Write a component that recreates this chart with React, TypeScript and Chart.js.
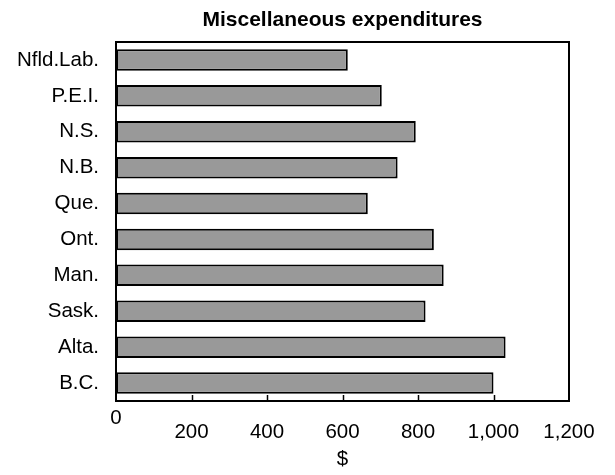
import React, { useEffect, useRef } from "react";
import { Chart, registerables } from "chart.js";

Chart.register(...registerables);

const categories = ["Nfld.Lab.", "P.E.I.", "N.S.", "N.B.", "Que.", "Ont.", "Man.", "Sask.", "Alta.", "B.C."];
const values = [614, 704, 794, 746, 667, 842, 868, 820, 1032, 1000];
const xTickValues = [0, 200, 400, 600, 800, 1000, 1200];
const xTickLabels = ["0", "200", "400", "600", "800", "1,000", "1,200"];
const titleText = "Miscellaneous expenditures";
const xAxisTitle = "$";

const FONT = "'Liberation Sans', Arial, sans-serif";

const framePlugin = {
  id: "frame",
  afterDatasetsDraw(chart: any) {
    const { ctx, chartArea } = chart;
    const { left, top, right, bottom } = chartArea;
    const xs = chart.scales.x;
    ctx.save();
    ctx.strokeStyle = "#000";
    ctx.lineWidth = 2;
    ctx.strokeRect(left, top, right - left, bottom - top);
    ctx.lineWidth = 1.5;
    for (let i = 1; i < xTickValues.length - 1; i++) {
      const px = Math.round(xs.getPixelForValue(xTickValues[i])) + 0.5;
      ctx.beginPath();
      ctx.moveTo(px, bottom);
      ctx.lineTo(px, bottom - 6);
      ctx.stroke();
    }
    ctx.restore();
  },
};

export default function App() {
  const ref = useRef<HTMLCanvasElement>(null);

  useEffect(() => {
    document.body.style.margin = "0";
    const canvas = ref.current;
    if (!canvas) return;
    const chart = new Chart(canvas, {
      type: "bar",
      data: {
        labels: categories,
        datasets: [
          {
            data: values,
            backgroundColor: "#999999",
            borderColor: "#000000",
            borderWidth: 2,
            borderSkipped: false,
            barPercentage: 0.6,
            categoryPercentage: 1,
          },
        ],
      },
      options: {
        indexAxis: "y",
        animation: false,
        responsive: false,
        maintainAspectRatio: false,
        layout: { padding: { left: 0, right: 46, top: 0, bottom: 0 } },
        plugins: {
          legend: { display: false },
          tooltip: { enabled: false },
          title: {
            display: true,
            text: titleText,
            fullSize: false,
            color: "#000",
            font: { family: FONT, size: 21, weight: "bold", lineHeight: 1.2 },
            padding: { top: 8, bottom: 8.8 },
          },
        },
        scales: {
          x: {
            type: "linear",
            min: 0,
            max: 1200,
            grid: { display: false, drawTicks: false },
            border: { display: false },
            afterBuildTicks(scale: any) {
              scale.ticks = xTickValues.map((v) => ({ value: v }));
            },
            afterFit(scale: any) {
              scale.height = 74;
            },
            ticks: {
              autoSkip: false,
              maxRotation: 0,
              padding: 10,
              color: "#000",
              font: { family: FONT, size: 20.5, lineHeight: "14px" },
              callback: (value: any) => {
                const i = xTickValues.indexOf(Number(value));
                const label = xTickLabels[i];
                return i === 0 ? label : ["", label];
              },
            },
            title: {
              display: true,
              text: xAxisTitle,
              color: "#000",
              font: { family: FONT, size: 20.5, lineHeight: 1.2 },
              padding: { top: 0, bottom: 3 },
            },
          },
          y: {
            type: "category",
            grid: { display: false, drawTicks: false },
            border: { display: false },
            afterFit(scale: any) {
              scale.width = 116;
            },
            ticks: {
              padding: 17,
              color: "#000",
              font: { family: FONT, size: 20.5 },
            },
          },
        },
      },
      plugins: [framePlugin],
    } as any);
    return () => chart.destroy();
  }, []);

  return (
    <div style={{ width: 615, height: 475 }}>
      <canvas ref={ref} width={615} height={475} style={{ display: "block" }} />
    </div>
  );
}
